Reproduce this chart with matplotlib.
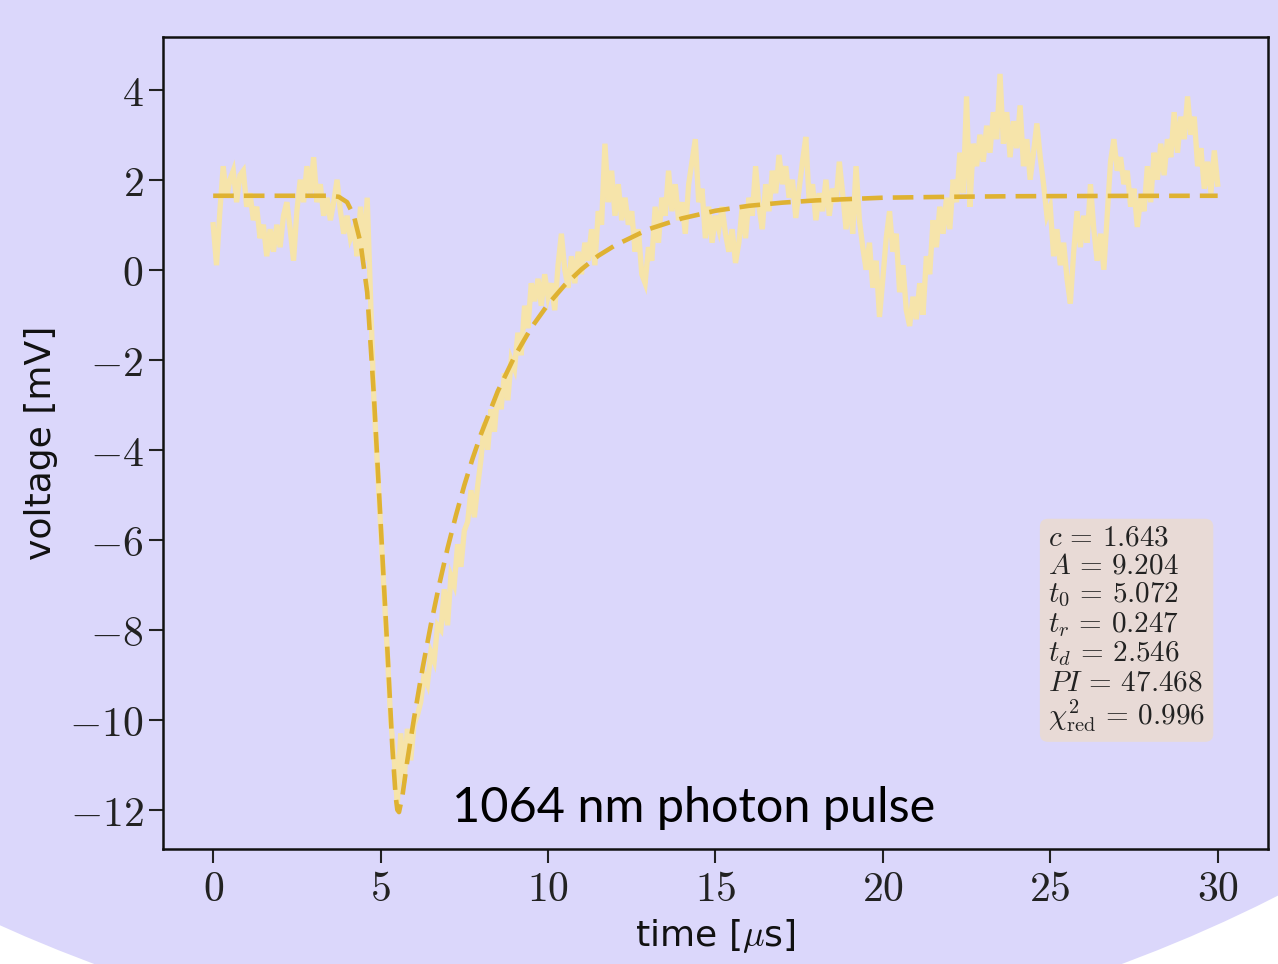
import matplotlib
matplotlib.use("Agg")
import matplotlib.pyplot as plt
import numpy as np
from matplotlib.patches import Circle
from matplotlib.ticker import FuncFormatter

plt.rcParams["mathtext.fontset"] = "cm"

# measured pulse, one sample every 0.1 us
VOLTAGE = [
    1.0, 0.1, 1.3, 2.3, 1.6, 2.0, 2.2, 1.5, 2.1, 2.2,
    1.4, 1.7, 1.1, 1.4, 0.7, 1.0, 0.3, 0.9, 0.4, 1.0,
    0.5, 1.2, 1.5, 0.9, 0.2, 1.3, 2.0, 1.5, 2.3, 1.7,
    2.5, 1.5, 1.9, 1.2, 1.6, 1.1, 1.5, 2.0, 1.3, 0.8,
    1.2, 0.7, 0.9, 0.3, 1.4, 0.2, 1.6, -0.6, -2.9, -4.3,
    -5.7, -7.1, -8.5, -10.0, -10.8, -11.9, -10.3, -11.4, -10.2, -10.9,
    -10.1, -9.9, -9.6, -9.0, -9.2, -8.5, -8.7, -7.9, -8.0, -7.1,
    -7.9, -6.8, -7.0, -6.1, -6.6, -5.8, -5.6, -4.9, -5.5, -4.8,
    -4.2, -3.4, -4.0, -3.1, -3.6, -2.7, -3.1, -2.3, -2.9, -2.0,
    -2.2, -1.4, -1.9, -0.8, -1.3, -0.3, -0.7, -0.2, -0.8, -0.1,
    -0.6, -0.3, -0.9, 0.1, 0.8, 0.0, -0.4, 0.3, -0.3, 0.4,
    -0.1, 0.6, 0.2, 0.9, 0.1, 1.3, 1.0, 2.8, 1.5, 2.2,
    1.2, 1.9, 1.1, 1.6, 1.0, 1.3, 0.4, 0.9, -0.1, -0.3,
    0.5, 0.2, 1.4, 0.6, 1.6, 1.2, 2.2, 1.3, 1.9, 1.1,
    1.5, 0.8, 1.9, 2.4, 2.9, 1.5, 1.8, 0.7, 1.4, 0.6,
    1.2, 0.9, 1.4, 0.8, 0.4, 0.9, 0.15, 0.6, 1.4, 0.7,
    1.6, 1.2, 2.3, 1.4, 0.9, 1.9, 1.3, 2.2, 1.7, 2.55,
    1.9, 2.3, 1.6, 2.0, 1.15, 1.8, 2.4, 2.95, 1.5, 1.9,
    1.1, 1.7, 1.3, 2.0, 1.2, 1.8, 1.5, 2.4, 1.7, 0.9,
    1.6, 0.8, 2.3, 1.1, 0.5, 0.0, 0.6, -0.4, 0.2, -1.05,
    -0.2, 0.7, 1.3, 0.4, 0.8, -0.5, 0.1, -0.9, -1.25, -0.6,
    -1.1, -0.3, -1.0, 0.3, -0.1, 1.1, 0.5, 1.4, 0.8, 1.6,
    0.9, 2.0, 1.5, 2.6, 1.7, 3.85, 1.4, 2.8, 2.3, 3.0,
    2.4, 3.2, 2.6, 3.5, 2.9, 4.35, 2.8, 3.5, 2.5, 3.3,
    2.7, 3.65, 2.3, 2.9, 2.0, 2.6, 3.25, 2.5, 1.9, 1.2,
    1.4, 0.3, 0.9, 0.1, 0.6, -0.2, -0.75, 0.4, 1.3, 0.5,
    1.2, 0.6, 1.9, 0.9, 0.2, 0.8, 0.0, 1.2, 2.4, 2.9,
    2.2, 2.5, 1.9, 2.2, 1.4, 1.8, 0.95, 1.6, 1.3, 2.3,
    1.5, 2.6, 2.0, 2.8, 2.1, 2.9, 2.5, 3.5, 2.6, 3.4,
    2.9, 3.85, 3.0, 3.4, 2.3, 2.7, 1.8, 2.4, 1.7, 2.65,
    1.9,
]
TIME = np.linspace(0, 30, len(VOLTAGE))

# fit parameters shown in the box
C_FIT = 1.643
FIT_PARAMS = [
    ("c", "1.643"),
    ("A", "9.204"),
    ("t_0", "5.072"),
    ("t_r", "0.247"),
    ("t_d", "2.546"),
    ("PI", "47.468"),
    (r"\chi^2_{\rm red}", "0.996"),
]

# fitted pulse shape, sampled
FIT_T = [0.0, 3.5, 3.75, 4.0, 4.2, 4.4, 4.6, 4.8, 5.0, 5.2, 5.35, 5.45, 5.5,
         5.55, 5.65, 5.8, 6.0, 6.25, 6.5, 6.75, 7.0, 7.25, 7.5, 7.75, 8.0,
         8.5, 9.0, 9.5, 10.0, 10.5, 11.0, 11.5, 12.0, 13.0, 14.0, 15.0,
         16.0, 17.0, 18.0, 19.0, 20.0, 22.0, 24.0, 27.0, 30.0]
FIT_V = [C_FIT, C_FIT, 1.62, 1.5, 1.2, 0.6, -0.5, -2.8, -5.6, -8.4, -10.6,
         -11.7, -12.0, -12.05, -11.7, -10.9, -9.96, -8.87, -7.89, -7.0,
         -6.19, -5.46, -4.79, -4.19, -3.65, -2.70, -1.93, -1.29, -0.77,
         -0.34, 0.01, 0.31, 0.54, 0.90, 1.14, 1.31, 1.42, 1.49, 1.54, 1.57,
         1.60, 1.62, 1.633, 1.64, C_FIT]

LAVENDER = "#dbd7fb"
TRACE_COLOR = "#f6e4aa"
FIT_COLOR = "#dfb232"

fig = plt.figure(figsize=(12.78, 9.64), dpi=100, facecolor="white")
fig.patches.append(Circle((6.08, 13.88), 14.8, transform=fig.dpi_scale_trans,
                          facecolor=LAVENDER, edgecolor="none", zorder=-10))

ax = fig.add_axes([0.1275, 0.1193, 0.8646, 0.8423])
ax.set_facecolor(LAVENDER)

ax.plot(TIME, VOLTAGE, color=TRACE_COLOR, lw=3.8, solid_joinstyle="miter")
ax.plot(FIT_T, FIT_V, color=FIT_COLOR, lw=3.3, dashes=(4.5, 2.2))

ax.set_yticks([4, 2, 0, -2, -4, -6, -8, -10, -12])
ax.set_xticks([0, 5, 10, 15, 20, 25, 30])
cm_fmt = FuncFormatter(lambda v, pos: rf"${v:g}$")
ax.xaxis.set_major_formatter(cm_fmt)
ax.yaxis.set_major_formatter(cm_fmt)
ax.tick_params(labelsize=30, length=10, width=1.5, pad=4, color="#222222",
               labelcolor="#222222")
for sp in ax.spines.values():
    sp.set_linewidth(1.8)
    sp.set_color("#111111")

ax.set_xlabel(r"time [$\mu$s]", fontsize=26, labelpad=5, color="#111111")
ax.set_ylabel("voltage [mV]", fontsize=26, labelpad=8, color="#111111")

box_text = "\n".join(rf"${k}\,=\,{v}$" for k, v in FIT_PARAMS)
ax.text(0.801, 0.142, box_text, transform=ax.transAxes, fontsize=21,
        va="bottom", ha="left", linespacing=1.02, color="#222222",
        bbox=dict(boxstyle="round,pad=0.28", facecolor="wheat", alpha=0.5,
                  edgecolor="none"), zorder=5)

fig.text(452 / 1278, 1 - 822 / 964, "1064 nm photon pulse", fontsize=35,
         family="Lato", va="baseline", ha="left", color="black")

fig.savefig("out.png", dpi=100, facecolor=fig.get_facecolor())
